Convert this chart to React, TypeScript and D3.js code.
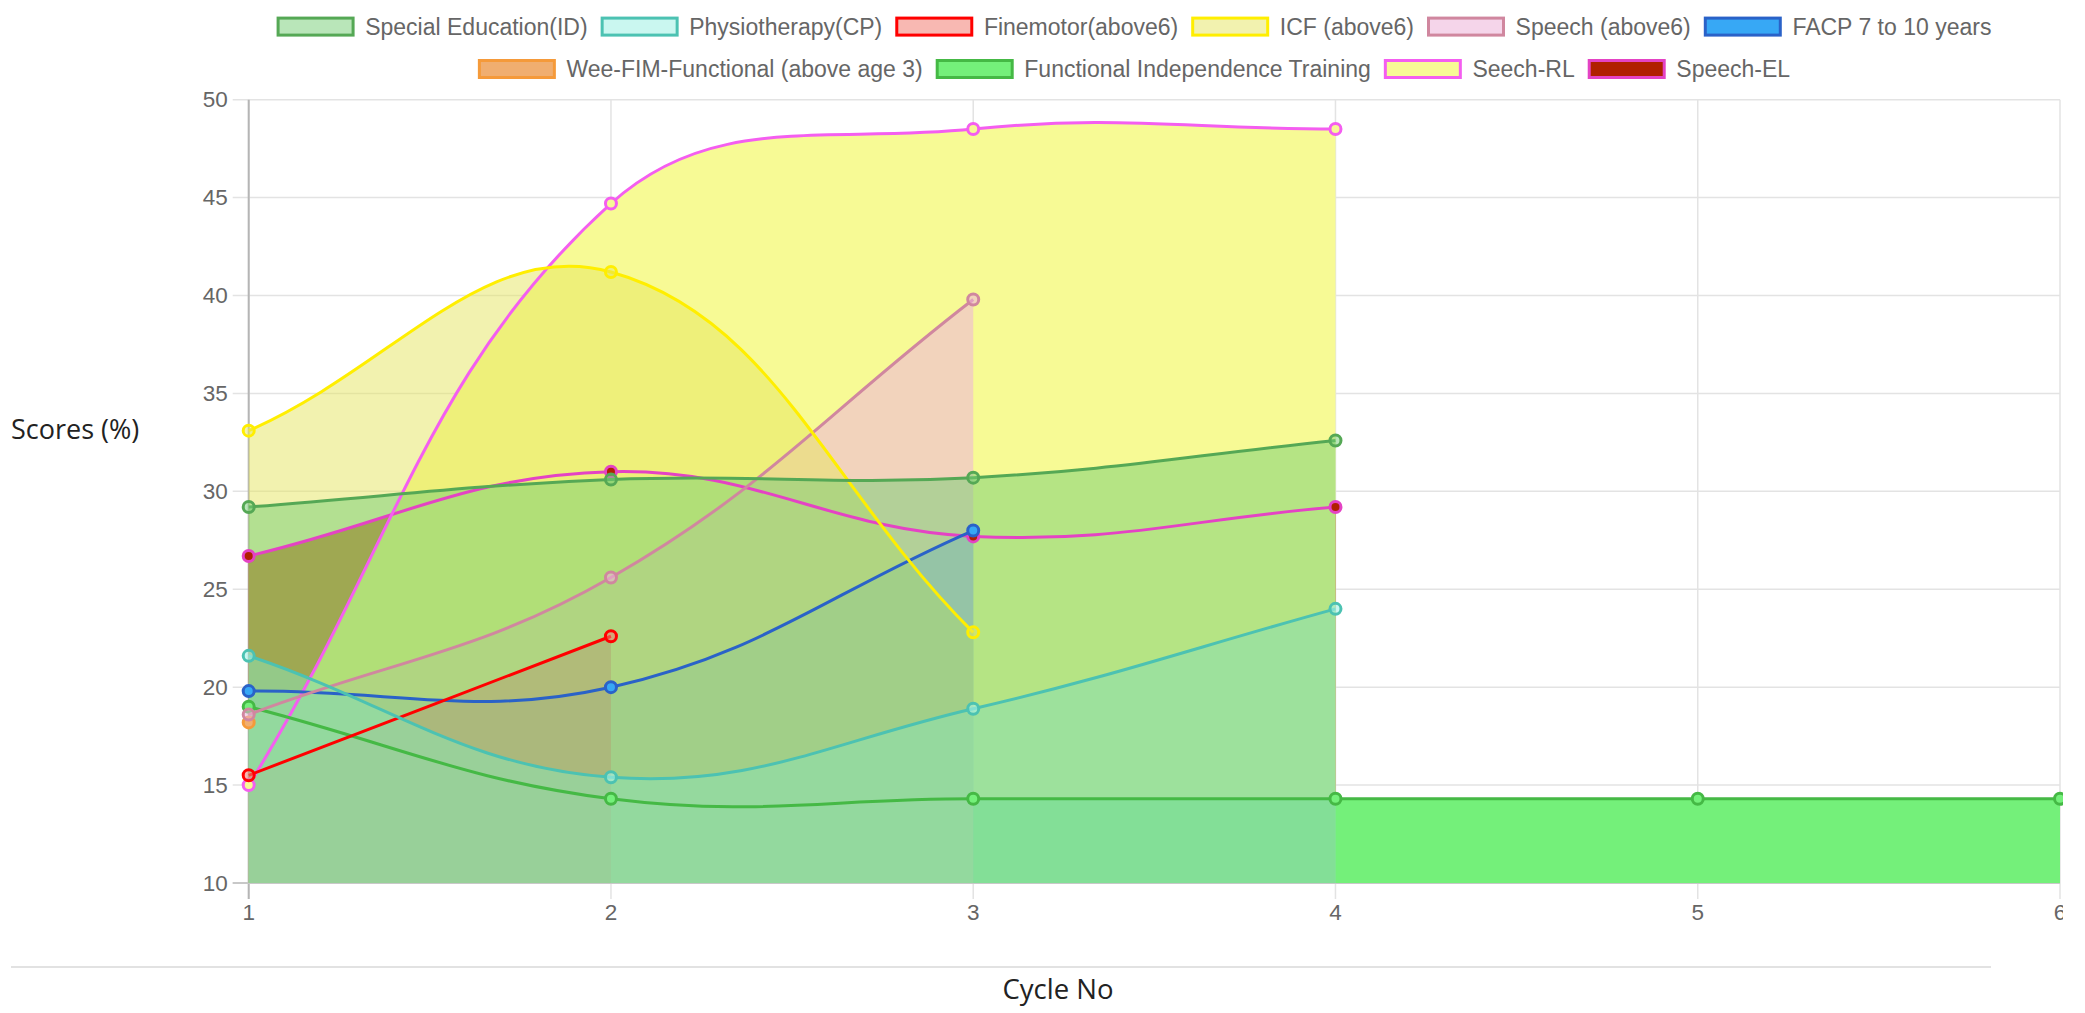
import { useEffect, useRef } from "react";
import * as d3 from "d3";

// x axis: cycle numbers, y axis: scores in %
const CYCLES = [1, 2, 3, 4, 5, 6];
const SCORE_TICKS = [10, 15, 20, 25, 30, 35, 40, 45, 50];

const SERIES_NAMES = [
  "Special Education(ID)",
  "Physiotherapy(CP)",
  "Finemotor(above6)",
  "ICF (above6)",
  "Speech (above6)",
  "FACP 7 to 10 years",
  "Wee-FIM-Functional (above age 3)",
  "Functional Independence Training",
  "Seech-RL",
  "Speech-EL",
];

// values per cycle
const SPECIAL_EDUCATION = [29.2, 30.6, 30.7, 32.6];
const PHYSIOTHERAPY = [21.6, 15.4, 18.9, 24.0];
const FINEMOTOR = [15.5, 22.6];
const ICF = [33.1, 41.2, 22.8];
const SPEECH = [18.6, 25.6, 39.8];
const FACP = [19.8, 20.0, 28.0];
const WEE_FIM = [18.2];
const FUNCTIONAL_INDEPENDENCE = [19.0, 14.3, 14.3, 14.3, 14.3, 14.3];
const SEECH_RL = [15.0, 44.7, 48.5, 48.5];
const SPEECH_EL = [26.7, 31.0, 27.7, 29.2];

const SERIES_VALUES = [
  SPECIAL_EDUCATION,
  PHYSIOTHERAPY,
  FINEMOTOR,
  ICF,
  SPEECH,
  FACP,
  WEE_FIM,
  FUNCTIONAL_INDEPENDENCE,
  SEECH_RL,
  SPEECH_EL,
];

// which legend entries go on which line
const LEGEND_ROWS = [
  [0, 1, 2, 3, 4, 5],
  [6, 7, 8, 9],
];

// styles
const BORDER_COLORS = [
  "#55a855",
  "#4cc2b2",
  "#ff0000",
  "#ffee00",
  "#d0879f",
  "#2a62c8",
  "#f59a3a",
  "#45b945",
  "#f45ef0",
  "#e443c4",
];
const FILL_COLORS = [
  "rgba(115,205,115,0.5)",
  "rgba(167,242,230,0.6)",
  "rgba(243,125,115,0.55)",
  "rgba(230,230,95,0.5)",
  "rgba(238,181,218,0.57)",
  "rgb(55,168,245)",
  "rgb(240,174,112)",
  "rgb(116,240,122)",
  "rgb(247,250,149)",
  "rgb(176,32,0)",
];
// extra opacity for the filled areas only
const AREA_OPACITY = [1, 1, 1, 1, 1, 0.7, 1, 1, 1, 1];

const W = 2085;
const H = 1013;
const plot = { left: 248.7, right: 2060, top: 99.7, bottom: 883 };
const FONT = "'Liberation Sans', Arial, Helvetica, sans-serif";

// chart.js style spline (tension 0.4, distance weighted)
function splinePath(pts: [number, number][], tension = 0.4) {
  const path = d3.path();
  const cps = pts.map((p, i) => {
    const prev = pts[i - 1] ?? p;
    const next = pts[i + 1] ?? p;
    const d01 = Math.hypot(p[0] - prev[0], p[1] - prev[1]);
    const d12 = Math.hypot(next[0] - p[0], next[1] - p[1]);
    let s01 = d01 / (d01 + d12);
    let s12 = d12 / (d01 + d12);
    if (isNaN(s01)) s01 = 0;
    if (isNaN(s12)) s12 = 0;
    const fa = tension * s01;
    const fb = tension * s12;
    return {
      prev: [p[0] - fa * (next[0] - prev[0]), p[1] - fa * (next[1] - prev[1])],
      next: [p[0] + fb * (next[0] - prev[0]), p[1] + fb * (next[1] - prev[1])],
    };
  });
  path.moveTo(pts[0][0], pts[0][1]);
  for (let i = 1; i < pts.length; i++) {
    path.bezierCurveTo(
      cps[i - 1].next[0],
      cps[i - 1].next[1],
      cps[i].prev[0],
      cps[i].prev[1],
      pts[i][0],
      pts[i][1]
    );
  }
  return path;
}

export default function App() {
  const ref = useRef<SVGSVGElement>(null);

  useEffect(() => {
    const svg = d3.select(ref.current);
    svg.selectAll("*").remove();

    const x = d3.scaleLinear().domain([1, 6]).range([plot.left, plot.right]);
    const y = d3.scaleLinear().domain([10, 50]).range([plot.bottom, plot.top]);

    svg
      .append("defs")
      .append("clipPath")
      .attr("id", "canvasClip")
      .append("rect")
      .attr("x", 0)
      .attr("y", 0)
      .attr("width", 2063)
      .attr("height", 940);

    const g = svg.append("g").attr("clip-path", "url(#canvasClip)");

    // grid
    g.selectAll("line.hgrid")
      .data(SCORE_TICKS)
      .join("line")
      .attr("x1", plot.left - 16)
      .attr("x2", plot.right)
      .attr("y1", (d) => y(d))
      .attr("y2", (d) => y(d))
      .attr("stroke", "#e3e3e3")
      .attr("stroke-width", 1.5);

    g.selectAll("line.vgrid")
      .data(CYCLES)
      .join("line")
      .attr("x1", (d) => x(d))
      .attr("x2", (d) => x(d))
      .attr("y1", plot.top)
      .attr("y2", plot.bottom + 16)
      .attr("stroke", "#e3e3e3")
      .attr("stroke-width", 1.5);

    // axis borders
    g.append("line")
      .attr("x1", plot.left)
      .attr("x2", plot.left)
      .attr("y1", plot.top)
      .attr("y2", plot.bottom + 16)
      .attr("stroke", "#b5b5b5")
      .attr("stroke-width", 2);
    g.append("line")
      .attr("x1", plot.left - 16)
      .attr("x2", plot.right)
      .attr("y1", plot.bottom)
      .attr("y2", plot.bottom)
      .attr("stroke", "#c8c8c8")
      .attr("stroke-width", 2);

    // tick labels
    g.selectAll("text.ytick")
      .data(SCORE_TICKS)
      .join("text")
      .attr("x", plot.left - 21)
      .attr("y", (d) => y(d))
      .attr("text-anchor", "end")
      .attr("dominant-baseline", "central")
      .attr("font-family", FONT)
      .attr("font-size", 22.5)
      .attr("fill", "#666")
      .text((d) => d);

    g.selectAll("text.xtick")
      .data(CYCLES)
      .join("text")
      .attr("x", (d) => x(d))
      .attr("y", 912)
      .attr("text-anchor", "middle")
      .attr("dominant-baseline", "central")
      .attr("font-family", FONT)
      .attr("font-size", 22.5)
      .attr("fill", "#666")
      .text((d) => d);

    const order = d3.range(SERIES_VALUES.length).reverse();
    const pointsOf = (s: number): [number, number][] =>
      SERIES_VALUES[s].map((v, i) => [x(CYCLES[i]), y(v)]);

    // all fills first (last dataset at the bottom)
    order.forEach((s) => {
      const pts = pointsOf(s);
      if (pts.length < 2) return;
      const area = splinePath(pts);
      area.lineTo(pts[pts.length - 1][0], y(10));
      area.lineTo(pts[0][0], y(10));
      area.closePath();
      g.append("path")
        .attr("d", area.toString())
        .attr("fill", FILL_COLORS[s])
        .attr("fill-opacity", AREA_OPACITY[s]);
    });

    // then lines and points on top
    order.forEach((s) => {
      const pts = pointsOf(s);
      const ds = g.append("g");
      if (pts.length > 1) {
        ds.append("path")
          .attr("d", splinePath(pts).toString())
          .attr("fill", "none")
          .attr("stroke", BORDER_COLORS[s])
          .attr("stroke-width", 3);
      }
      ds.selectAll("circle")
        .data(pts)
        .join("circle")
        .attr("cx", (d) => d[0])
        .attr("cy", (d) => d[1])
        .attr("r", 5.5)
        .attr("fill", FILL_COLORS[s])
        .attr("stroke", BORDER_COLORS[s])
        .attr("stroke-width", 3);
    });

    // legend
    const rowY = [26.6, 69];
    const boxW = 75;
    const boxH = 17;
    const gap = 13;
    LEGEND_ROWS.forEach((row, r) => {
      const lg = svg.append("g");
      const items = row.map((s) => {
        const t = lg
          .append("text")
          .attr("font-family", FONT)
          .attr("font-size", 23)
          .attr("fill", "#666")
          .attr("dominant-baseline", "central")
          .attr("y", rowY[r])
          .text(SERIES_NAMES[s]);
        const tw = (t.node() as SVGTextElement).getComputedTextLength();
        return { s, t, tw };
      });
      const total =
        d3.sum(items, (d) => boxW + 3 + 10.6 + d.tw) + gap * (items.length - 1);
      let cx = 1134 - total / 2;
      items.forEach((it) => {
        lg.append("rect")
          .attr("x", cx + 1.5)
          .attr("y", rowY[r] - boxH / 2)
          .attr("width", boxW)
          .attr("height", boxH)
          .attr("fill", FILL_COLORS[it.s])
          .attr("stroke", BORDER_COLORS[it.s])
          .attr("stroke-width", 3);
        it.t.attr("x", cx + boxW + 3 + 10.6);
        cx += boxW + 3 + 10.6 + it.tw + gap;
      });
    });

    // outer labels
    svg
      .append("text")
      .attr("x", 11)
      .attr("y", 428)
      .attr("dominant-baseline", "central")
      .attr("font-family", "'Open Sans', sans-serif")
      .attr("font-size", 27)
      .attr("fill", "#222")
      .text("Scores (%)");

    svg
      .append("line")
      .attr("x1", 11)
      .attr("x2", 1991)
      .attr("y1", 967)
      .attr("y2", 967)
      .attr("stroke", "#e2e2e2")
      .attr("stroke-width", 2);

    svg
      .append("text")
      .attr("x", 1058)
      .attr("y", 988)
      .attr("text-anchor", "middle")
      .attr("dominant-baseline", "central")
      .attr("font-family", "'Open Sans', sans-serif")
      .attr("font-size", 27.5)
      .attr("fill", "#222")
      .text("Cycle No");
  }, []);

  return (
    <svg
      ref={ref}
      width={W}
      height={H}
      style={{ position: "absolute", left: 0, top: 0, background: "#fff" }}
    />
  );
}
